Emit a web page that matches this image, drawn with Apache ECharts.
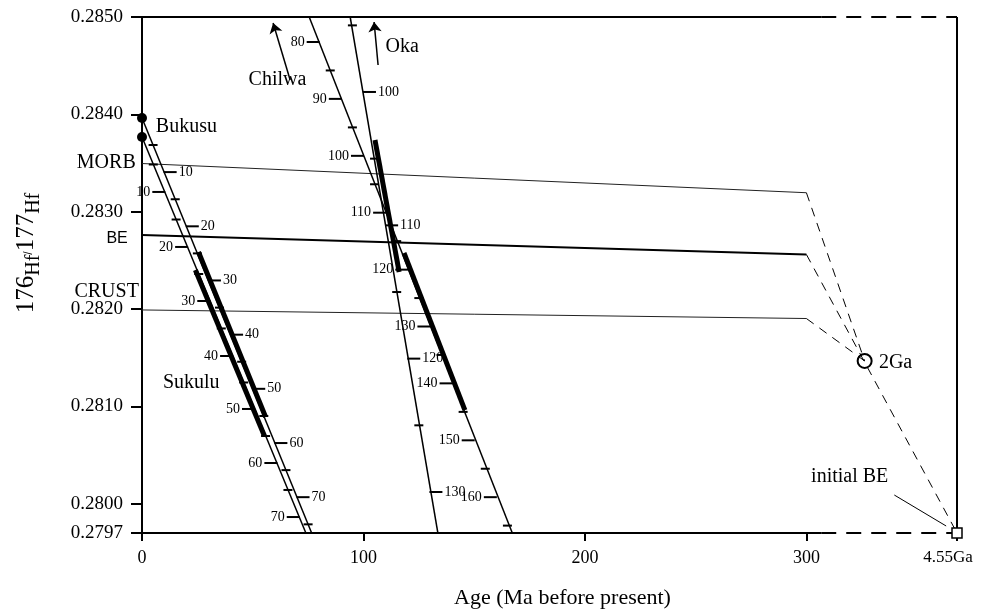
<!DOCTYPE html>
<html>
<head>
<meta charset="utf-8">
<script src="https://cdn.jsdelivr.net/npm/echarts@6/dist/echarts.min.js"></script>
<style>
html, body { margin: 0; padding: 0; background: #fff; }
#chart { width: 981px; height: 612px; }
</style>
</head>
<body>
<div id="chart"></div>
<script>
var FONT = 'Liberation Serif';

// axis ticks (x in Ma, 368 stands for 4.55 Ga)
var xTicks = [0, 100, 200, 300, 368];
var yTicks = [0.2797, 0.2800, 0.2810, 0.2820, 0.2830, 0.2840, 0.2850];

// frame
var frameTop = [[0, 0.2850], [306.7, 0.2850]];
var frameTopDash = [[306.7, 0.2850], [368, 0.2850]];
var frameBottom = [[0, 0.2797], [306.7, 0.2797]];
var frameBottomDash = [[306.7, 0.2797], [368, 0.2797]];
var frameRight = [[368, 0.2797], [368, 0.2850]];

// reservoirs
var morb = [[0, 0.283495], [300, 0.283195]];
var morbDash = [[300, 0.283195], [326.3, 0.281467]];
var be = [[0, 0.282761], [300, 0.282561]];
var beDash = [[300, 0.282561], [368, 0.2797]];
var crust = [[0, 0.281991], [300, 0.281903]];
var crustDash = [[300, 0.281903], [326.3, 0.281467]];
var initialLeader = [[339.7, 0.280090], [363.1, 0.279772]];

// carbonatite evolution lines
var bukusuR = [[0, 0.283963], [76.6, 0.2797]];
var bukusuL = [[0, 0.283767], [74.0, 0.2797]];
var chilwa = [[75.5, 0.2850], [167.2, 0.2797]];
var oka = [[94.0, 0.2850], [133.6, 0.2797]];

// thick ranges
var sukuluR = [[25.5, 0.282586], [55.8, 0.280892]];
var sukuluL = [[24.1, 0.282401], [55.3, 0.280696]];
var chilwaBar = [[118.3, 0.282576], [145.8, 0.280963]];
var okaBar = [[105.2, 0.283737], [116.1, 0.282381]];

// age ticks on the lines
var bukusuRMajor = [[10, 0.283407], [20, 0.282850], [30, 0.282294], [40, 0.281737], [50, 0.281181], [60, 0.280624], [70, 0.280068]];
var bukusuRMinor = [[5, 0.283685], [15, 0.283128], [25, 0.282572], [35, 0.282015], [45, 0.281459], [55, 0.280902], [65, 0.280346], [75, 0.279789]];
var bukusuLMajor = [[10.3, 0.283203], [20.6, 0.282638], [30.6, 0.282083], [40.9, 0.281518], [50.8, 0.280974], [60.9, 0.280419], [71.0, 0.279864]];
var bukusuLMinor = [[5.1, 0.283485], [15.4, 0.282920], [25.6, 0.282360], [35.8, 0.281801], [45.9, 0.281246], [55.8, 0.280696], [65.9, 0.280142]];
var bukusuLabels = [10, 20, 30, 40, 50, 60, 70];

var chilwaMajor = [[80, 0.284743], [90, 0.284159], [100, 0.283574], [110, 0.282990], [120, 0.282405], [130, 0.281821], [140, 0.281237], [150, 0.280652], [160, 0.280068]];
var chilwaMinor = [[85, 0.284451], [95, 0.283866], [105, 0.283282], [115, 0.282698], [125, 0.282113], [135, 0.281529], [145, 0.280944], [155, 0.280360], [165, 0.279776]];
var chilwaLabels = [80, 90, 100, 110, 120, 130, 140, 150, 160];

var okaMajor = [[100, 0.284230], [110, 0.282860], [120, 0.281491], [130, 0.280121]];
var okaMinor = [[95, 0.284914], [105, 0.283545], [115, 0.282175], [125, 0.280806]];
var okaLabels = [100, 110, 120, 130];

// points
var bukusuDots = [[0, 0.283963], [0, 0.283767]];
var twoGa = [[326.3, 0.281467]];
var initialBE = [[368, 0.2797]];

// arrows
var chilwaArrow = [[66.9, 0.284353], [59.2, 0.284938]];
var okaArrow = [[106.6, 0.284507], [104.8, 0.284949]];

// text
var textRight = [[6.0, 0.283870, 'Bukusu'], [9.2, 0.281241, 'Sukulu'], [47.9, 0.284353, 'Chilwa'],
  [109.7, 0.284692, 'Oka'], [332.5, 0.281446, '2Ga'], [301.9, 0.280275, 'initial BE']];
var textLeft = [[-2.6, 0.283500, 'MORB'], [-1.2, 0.282175, 'CRUST']];
var textBE = [[-6.2, 0.282720, 'BE']];

function seg(data, width, dashed, color) {
    return {
        type: 'line',
        data: data,
        symbol: 'none',
        clip: false,
        silent: true,
        lineStyle: {
            color: color || '#000',
            width: width,
            type: dashed ? dashed : 'solid',
            cap: 'butt'
        },
        z: 2
    };
}

function ticks(points, labels, side) {
    var major = side !== 'minor';
    return {
        type: 'scatter',
        clip: false,
        silent: true,
        symbol: 'rect',
        symbolSize: major ? [13, 2] : [9, 2],
        symbolOffset: side === 'right' ? [6, 0] : (side === 'left' ? [-6, 0] : [0, 0]),
        itemStyle: { color: '#000', opacity: 1 },
        data: points.map(function (p, i) {
            return labels ? [p[0], p[1], labels[i]] : p;
        }),
        label: {
            show: major,
            position: side === 'left' ? 'left' : 'right',
            distance: 2,
            fontFamily: FONT,
            fontSize: 14,
            color: '#000',
            opacity: 1,
            formatter: function (p) { return p.value[2]; }
        },
        z: 4
    };
}

function texts(data, pos, font, size) {
    return {
        type: 'scatter',
        clip: false,
        silent: true,
        symbolSize: 1,
        itemStyle: { color: 'rgba(0,0,0,0)', opacity: 1 },
        data: data,
        label: {
            show: true,
            position: pos,
            distance: 0,
            fontFamily: font,
            fontSize: size,
            color: '#000',
            opacity: 1,
            formatter: function (p) { return p.value[2]; }
        },
        z: 6
    };
}

var chart = echarts.init(document.getElementById('chart'));

var option = {
    animation: false,
    backgroundColor: '#fff',
    grid: { left: 142, right: 24, top: 17, bottom: 79, outerBoundsMode: 'none', containLabel: false },
    xAxis: {
        type: 'value',
        min: 0,
        max: 368,
        name: 'Age (Ma before present)',
        nameLocation: 'middle',
        nameGap: 54,
        nameTextStyle: { fontFamily: FONT, fontSize: 22, color: '#000', padding: [0, 0, 0, 26] },
        axisLine: { show: false },
        axisTick: {
            show: true,
            customValues: xTicks,
            length: 8,
            lineStyle: { color: '#000', width: 2 }
        },
        axisLabel: {
            customValues: xTicks,
            margin: 16,
            fontFamily: FONT,
            fontSize: 18,
            color: '#000',
            formatter: function (v) { return v === 368 ? '{r|4.55Ga}' : String(v); },
            rich: {
                r: { fontFamily: FONT, fontSize: 17, color: '#000', padding: [0, 18, 0, 0] }
            }
        },
        splitLine: { show: false }
    },
    yAxis: {
        type: 'value',
        min: 0.2797,
        max: 0.2850,
        name: '{n|176}{h|Hf}/{n|177}{h|Hf}',
        nameLocation: 'middle',
        nameGap: 98,
        nameRotate: 90,
        nameTextStyle: {
            padding: [0, 0, 0, 44],
            rich: {
                n: { fontFamily: FONT, fontSize: 25, color: '#000', verticalAlign: 'top', lineHeight: 30 },
                h: { fontFamily: FONT, fontSize: 20, color: '#000', verticalAlign: 'bottom', lineHeight: 30 }
            }
        },
        axisLine: { show: true, lineStyle: { color: '#000', width: 2 } },
        axisTick: {
            show: true,
            customValues: yTicks,
            length: 11,
            lineStyle: { color: '#000', width: 2 }
        },
        axisLabel: {
            customValues: yTicks,
            margin: 19,
            fontFamily: FONT,
            fontSize: 19,
            color: '#000',
            formatter: function (v) { return v.toFixed(4); }
        },
        splitLine: { show: false }
    },
    series: [
        seg(frameTop, 2),
        seg(frameTopDash, 2, [15, 10]),
        seg(frameBottom, 2),
        seg(frameBottomDash, 2, [15, 10]),
        seg(frameRight, 2),
        seg(morb, 1, null, '#222'),
        seg(morbDash, 1, [9, 7]),
        seg(be, 2),
        seg(beDash, 1, [9, 7]),
        seg(crust, 1, null, '#222'),
        seg(crustDash, 1, [9, 7]),
        seg(initialLeader, 1),
        seg(bukusuR, 1.5),
        seg(bukusuL, 1.5),
        seg(chilwa, 1.5),
        seg(oka, 1.5),
        seg(sukuluR, 5),
        seg(sukuluL, 5),
        seg(chilwaBar, 5),
        seg(okaBar, 5),
        ticks(bukusuRMajor, bukusuLabels, 'right'),
        ticks(bukusuRMinor, null, 'minor'),
        ticks(bukusuLMajor, bukusuLabels, 'left'),
        ticks(bukusuLMinor, null, 'minor'),
        ticks(chilwaMajor, chilwaLabels, 'left'),
        ticks(chilwaMinor, null, 'minor'),
        ticks(okaMajor, okaLabels, 'right'),
        ticks(okaMinor, null, 'minor'),
        {
            type: 'lines',
            coordinateSystem: 'cartesian2d',
            silent: true,
            symbol: ['none', 'arrow'],
            symbolSize: 10,
            lineStyle: { color: '#000', width: 1.5, opacity: 1 },
            data: [{ coords: chilwaArrow }, { coords: okaArrow }],
            z: 5
        },
        {
            type: 'scatter',
            clip: false,
            silent: true,
            symbol: 'circle',
            symbolSize: 10,
            itemStyle: { color: '#000', opacity: 1 },
            data: bukusuDots,
            z: 5
        },
        {
            type: 'scatter',
            clip: false,
            silent: true,
            symbol: 'circle',
            symbolSize: 14,
            itemStyle: { color: 'rgba(0,0,0,0)', borderColor: '#000', borderWidth: 2, opacity: 1 },
            data: twoGa,
            z: 5
        },
        {
            type: 'scatter',
            clip: false,
            silent: true,
            symbol: 'rect',
            symbolSize: 10,
            itemStyle: { color: '#fff', borderColor: '#000', borderWidth: 1.5, opacity: 1 },
            data: initialBE,
            z: 5
        },
        texts(textRight, 'right', FONT, 20),
        texts(textLeft, 'left', FONT, 20),
        texts(textBE, 'left', 'Liberation Sans', 16)
    ]
};

chart.setOption(option);
</script>
</body>
</html>
